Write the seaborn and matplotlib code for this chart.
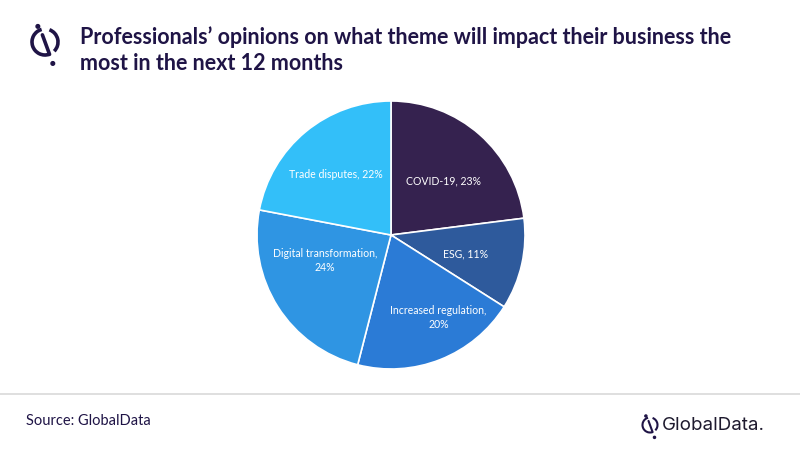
import numpy as np
import matplotlib.pyplot as plt
import seaborn as sns
from matplotlib.patches import Arc, Circle
from matplotlib.lines import Line2D

sns.set_theme(style="white")
plt.rcParams["font.family"] = ["Lato", "DejaVu Sans"]

# data
themes = ["COVID-19", "ESG", "Increased regulation", "Digital transformation", "Trade disputes"]
shares = [23, 11, 20, 24, 22]
label_text = ["COVID-19, 23%", "ESG, 11%", "Increased regulation,\n20%",
              "Digital transformation,\n24%", "Trade disputes, 22%"]
colors = ["#35224F", "#2E5A9C", "#2B7BD6", "#2F95E3", "#33BFF9"]
# label placement inside the slices (radius fraction, angle in degrees)
label_r = [0.56, 0.57, 0.71, 0.53, 0.61]
label_ang = [46, -14, -60, -159, 132]

navy = "#1F1446"

fig = plt.figure(figsize=(8, 4.5), dpi=100)
ax = fig.add_axes([0.32125, 0.18, 0.335, 0.5956])

wedges, texts = ax.pie(
    shares,
    labels=label_text,
    colors=colors,
    startangle=90,
    counterclock=False,
    wedgeprops={"edgecolor": "white", "linewidth": 1.2},
    textprops={"color": "white", "fontsize": 7.6, "ha": "center", "va": "center"},
)
for t, r, a in zip(texts, label_r, label_ang):
    t.set_position((r * np.cos(np.radians(a)), r * np.sin(np.radians(a))))
    t.set_ha("center")
    t.set_va("center")
    t.set_multialignment("center")
    t.set_linespacing(1.3)
ax.set_xlim(-1, 1)
ax.set_ylim(-1, 1)

# title
fig.text(80 / 800, 1 - 37 / 450, "Professionals\u2019 opinions on what theme will impact their business the",
         fontsize=15.5, fontweight="bold", color=navy, va="center")
fig.text(80 / 800, 1 - 63 / 450, "most in the next 12 months",
         fontsize=15.5, fontweight="bold", color=navy, va="center")

# footer
fig.add_artist(Line2D([0, 1], [1 - 394 / 450] * 2, color="#D9D9D9", lw=1.2))
fig.text(26 / 800, 1 - 421 / 450, "Source: GlobalData", fontsize=10.5, color=navy, va="center")
fig.text(662 / 800, 1 - 425 / 450, "GlobalData.", fontsize=13.5, color="#1E1A2E", va="center",
         family=["Inter", "DejaVu Sans"])


def draw_logo(cx, cy, r, lw):
    # small circular brand icon, placed in pixels
    tr = fig.dpi_scale_trans
    s = r / fig.dpi
    c = np.array([cx / fig.dpi, (450 - cy) / fig.dpi])
    fig.add_artist(Arc(c, 2 * s, 2 * s, theta1=105, theta2=290, lw=lw, color=navy, transform=tr))
    fig.add_artist(Arc(c, 2 * s, 2 * s, theta1=-45, theta2=70, lw=lw, color=navy, transform=tr))
    fig.add_artist(Line2D([c[0] - 0.2 * s, c[0] + 0.35 * s], [c[1] + 0.55 * s, c[1] - 0.95 * s],
                          lw=lw, color=navy, solid_capstyle="round", transform=tr))
    fig.add_artist(Circle((c[0] - 0.55 * s, c[1] + 1.2 * s), 0.14 * s, color=navy, transform=tr))
    fig.add_artist(Circle((c[0] + 0.6 * s, c[1] - 1.65 * s), 0.14 * s, color=navy, transform=tr))


draw_logo(45, 42, 13, 2.6)
draw_logo(650, 425, 7.5, 1.5)

fig.savefig("out.png", dpi=100)
